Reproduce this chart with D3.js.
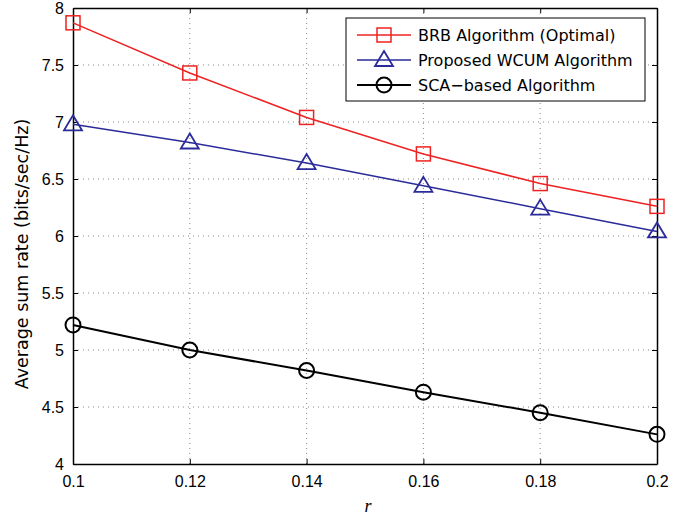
<!DOCTYPE html>
<html><head><meta charset="utf-8">
<script src="https://cdn.jsdelivr.net/npm/d3@7"></script>
<style>body{margin:0;background:#fff;} svg{display:block;font-family:"Liberation Sans",Arial,sans-serif;}</style>
</head><body>
<svg id="c" width="688" height="518"></svg>
<script>
const xValues = [0.1, 0.12, 0.14, 0.16, 0.18, 0.2];
const brb = [7.87, 7.43, 7.04, 6.72, 6.46, 6.26];
const wcum = [6.98, 6.82, 6.64, 6.44, 6.24, 6.04];
const sca = [5.22, 5.0, 4.82, 4.63, 4.45, 4.26];
const xTicks = [0.1, 0.12, 0.14, 0.16, 0.18, 0.2];
const xTickLabels = ["0.1", "0.12", "0.14", "0.16", "0.18", "0.2"];
const yTicks = [4, 4.5, 5, 5.5, 6, 6.5, 7, 7.5, 8];
const yTickLabels = ["4", "4.5", "5", "5.5", "6", "6.5", "7", "7.5", "8"];
const seriesNames = ["BRB Algorithm (Optimal)", "Proposed WCUM Algorithm", "SCA\u2212based Algorithm"];

const svg = d3.select("#c");
const L = 73, R = 657, T = 8, B = 464;
const x = d3.scaleLinear().domain([0.1, 0.2]).range([L, R]);
const y = d3.scaleLinear().domain([4, 8]).range([B, T]);
const wideFont = "'DejaVu Sans',Verdana,sans-serif";

// grid
const g = svg.append("g");
g.selectAll(".gx").data(xTicks.slice(1, -1)).enter().append("line")
  .attr("x1", d => x(d)).attr("x2", d => x(d)).attr("y1", T).attr("y2", B)
  .attr("stroke", "#888").attr("stroke-width", 1).attr("stroke-dasharray", "1,4");
g.selectAll(".gy").data(yTicks.slice(1, -1)).enter().append("line")
  .attr("y1", d => y(d)).attr("y2", d => y(d)).attr("x1", L).attr("x2", R)
  .attr("stroke", "#888").attr("stroke-width", 1).attr("stroke-dasharray", "1,4");

// axes
const tickFmtX = (d, i) => xTickLabels[i];
const tickFmtY = (d, i) => yTickLabels[i];
const ax = svg.append("g").attr("transform", `translate(0,${B})`)
  .call(d3.axisBottom(x).tickValues(xTicks).tickFormat(tickFmtX).tickSizeInner(-5).tickSizeOuter(0).tickPadding(12));
const ay = svg.append("g").attr("transform", `translate(${L},0)`)
  .call(d3.axisLeft(y).tickValues(yTicks).tickFormat(tickFmtY).tickSizeInner(-5).tickSizeOuter(0).tickPadding(9));
const axTop = svg.append("g").attr("transform", `translate(0,${T})`)
  .call(d3.axisTop(x).tickValues(xTicks).tickFormat("").tickSizeInner(-5).tickSizeOuter(0));
const ayR = svg.append("g").attr("transform", `translate(${R},0)`)
  .call(d3.axisRight(y).tickValues(yTicks).tickFormat("").tickSizeInner(-5).tickSizeOuter(0));
[ax, ay, axTop, ayR].forEach(a => {
  a.selectAll("path").attr("stroke", "#000").attr("stroke-width", 1.5);
  a.selectAll("line").attr("stroke", "#000").attr("stroke-width", 1);
  a.selectAll("text").attr("fill", "#000").style("font-size", "16px").style("font-family", "'Liberation Sans',Arial,sans-serif");
});
ax.selectAll("text").attr("dy", "0.71em");
ay.selectAll("text").attr("dy", "0.35em");

// labels
svg.append("text").attr("x", 368).attr("y", 512).attr("text-anchor", "middle")
  .style("font-family", "'Liberation Serif','Times New Roman',serif").style("font-style", "italic").style("font-size", "18px").text("r");
svg.append("text").attr("transform", `translate(28,${(T + B) / 2 + 18}) rotate(-90)`).attr("text-anchor", "middle")
  .style("font-family", wideFont).style("font-size", "17.5px").text("Average sum rate (bits/sec/Hz)");

const series = [
  {name: seriesNames[0], vals: brb, color: "#ee2222", marker: "square"},
  {name: seriesNames[1], vals: wcum, color: "#2b2b9a", marker: "triangle"},
  {name: seriesNames[2], vals: sca, color: "#000000", marker: "circle"}
];
const line = d3.line().x((d, i) => x(xValues[i])).y(d => y(d));

function drawMarker(sel, type, color) {
  if (type === "square") {
    sel.append("rect").attr("x", -7).attr("y", -7).attr("width", 14).attr("height", 14)
      .attr("fill", "none").attr("stroke", color).attr("stroke-width", 1.5);
  } else if (type === "triangle") {
    sel.append("path").attr("d", "M0,-9 L9,6 L-9,6 Z")
      .attr("fill", "none").attr("stroke", color).attr("stroke-width", 1.8);
  } else {
    sel.append("circle").attr("r", 7.5).attr("fill", "none").attr("stroke", color).attr("stroke-width", 2);
  }
}

series.forEach(s => {
  svg.append("path").datum(s.vals).attr("d", line).attr("fill", "none")
    .attr("stroke", s.color).attr("stroke-width", s.marker === "circle" ? 2 : 1.5);
  s.vals.forEach((v, i) => {
    const m = svg.append("g").attr("transform", `translate(${x(xValues[i])},${y(v)})`);
    drawMarker(m, s.marker, s.color);
  });
});

// legend
const lg = svg.append("g");
lg.append("rect").attr("x", 346).attr("y", 18).attr("width", 299).attr("height", 83)
  .attr("fill", "#fff").attr("stroke", "#000").attr("stroke-width", 1);
series.forEach((s, i) => {
  const cy = 35 + i * 25;
  lg.append("line").attr("x1", 357).attr("x2", 411).attr("y1", cy).attr("y2", cy)
    .attr("stroke", s.color).attr("stroke-width", s.marker === "circle" ? 2 : 1.5);
  const m = lg.append("g").attr("transform", `translate(384,${cy})`);
  drawMarker(m, s.marker, s.color);
  lg.append("text").attr("x", 418).attr("y", cy).attr("dy", "0.35em")
    .style("font-family", wideFont).style("font-size", "16px").text(s.name);
});
</script>
</body></html>
